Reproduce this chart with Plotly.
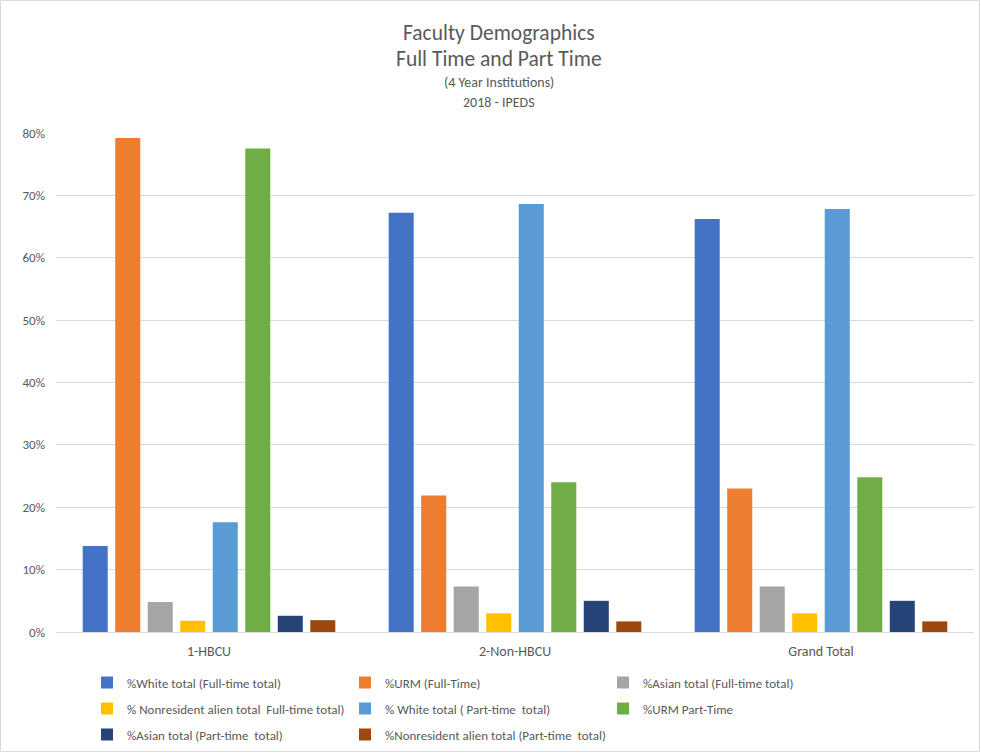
import plotly.graph_objects as go

categories = ["1-HBCU", "2-Non-HBCU", "Grand Total"]

series_names = [
    "%White total (Full-time total)",
    "%URM (Full-Time)",
    "%Asian total (Full-time total)",
    "% Nonresident alien total  Full-time total)",
    "% White total ( Part-time  total)",
    "%URM Part-Time",
    "%Asian total (Part-time  total)",
    "%Nonresident alien total (Part-time  total)",
]

white_ft = [0.138, 0.672, 0.662]
urm_ft = [0.792, 0.219, 0.230]
asian_ft = [0.048, 0.073, 0.073]
nonres_ft = [0.018, 0.030, 0.030]
white_pt = [0.176, 0.686, 0.678]
urm_pt = [0.775, 0.240, 0.248]
asian_pt = [0.026, 0.050, 0.050]
nonres_pt = [0.019, 0.017, 0.017]

series_values = [white_ft, urm_ft, asian_ft, nonres_ft, white_pt, urm_pt, asian_pt, nonres_pt]
colors = ["#4472C4", "#ED7D31", "#A5A5A5", "#FFC000", "#5B9BD5", "#70AD47", "#264478", "#9E480E"]

y_ticks = [0, 0.1, 0.2, 0.3, 0.4, 0.5, 0.6, 0.7, 0.8]
y_tick_labels = ["0%", "10%", "20%", "30%", "40%", "50%", "60%", "70%", "80%"]

FONT = "Calibri, Carlito, Lato, sans-serif"
TXT = "#595959"

W, H = 981, 753
L, R, T, B = 56, 7, 133, 121
ph = H - T - B
pw = W - L - R

legend_ids = ["legend", "legend", "legend", "legend2", "legend2", "legend2", "legend3", "legend4"]

fig = go.Figure()
for name, vals, col, lg in zip(series_names, series_values, colors, legend_ids):
    fig.add_trace(go.Bar(x=categories, y=vals, name=name, legend=lg,
                         marker=dict(color=col, line=dict(width=0))))

def py(p):
    return (H - B - p) / ph

titles = [
    ("Faculty Demographics", 33, 21.5),
    ("Full Time and Part Time", 59, 21.5),
    ("(4 Year Institutions)", 82, 14),
    ("2018 - IPEDS", 102, 14),
]
ann = []
for t, y, s in titles:
    ann.append(dict(text=t, x=(499 - L) / pw, y=py(y), xref="paper", yref="paper",
                    xanchor="center", yanchor="middle", showarrow=False,
                    font=dict(family=FONT, size=s, color=TXT)))

def leg(ypix, xpix=87, ew=213):
    d = dict(orientation="h", x=(xpix - L) / pw, xanchor="left", y=py(ypix), yanchor="middle",
             font=dict(size=13, color=TXT, family=FONT),
             traceorder="normal", itemwidth=30, bgcolor="rgba(0,0,0,0)")
    if ew:
        d["entrywidth"] = ew
    return d

fig.update_layout(
    width=W, height=H,
    margin=dict(l=L, r=R, t=T, b=B, autoexpand=False),
    paper_bgcolor="white", plot_bgcolor="white",
    barmode="group", bargap=0.15, bargroupgap=0.23,
    font=dict(family=FONT, size=13, color=TXT),
    annotations=ann,
    showlegend=True,
    legend=leg(682.5), legend2=leg(708.5), legend3=leg(734.5), legend4=leg(734.5, 345, None),
    shapes=[dict(type="rect", xref="paper", yref="paper",
                 x0=(0.5 - L) / pw, x1=(W - 1.5 - L) / pw,
                 y0=py(H - 1.5), y1=py(0.5),
                 line=dict(color="#d9d9d9", width=1), fillcolor="rgba(0,0,0,0)", layer="below")],
)
fig.update_yaxes(range=[0, 0.8], tickvals=y_ticks, ticktext=y_tick_labels,
                 showgrid=True, gridcolor="#d9d9d9", gridwidth=1, zeroline=False,
                 showline=False, ticks="", ticklabelstandoff=10,
                 tickfont=dict(size=13, color=TXT, family=FONT))
fig.update_xaxes(showline=True, linecolor="#d9d9d9", linewidth=1, ticks="",
                 ticklabelstandoff=6,
                 tickfont=dict(size=14, color=TXT, family=FONT))

fig.write_html("out.html")
